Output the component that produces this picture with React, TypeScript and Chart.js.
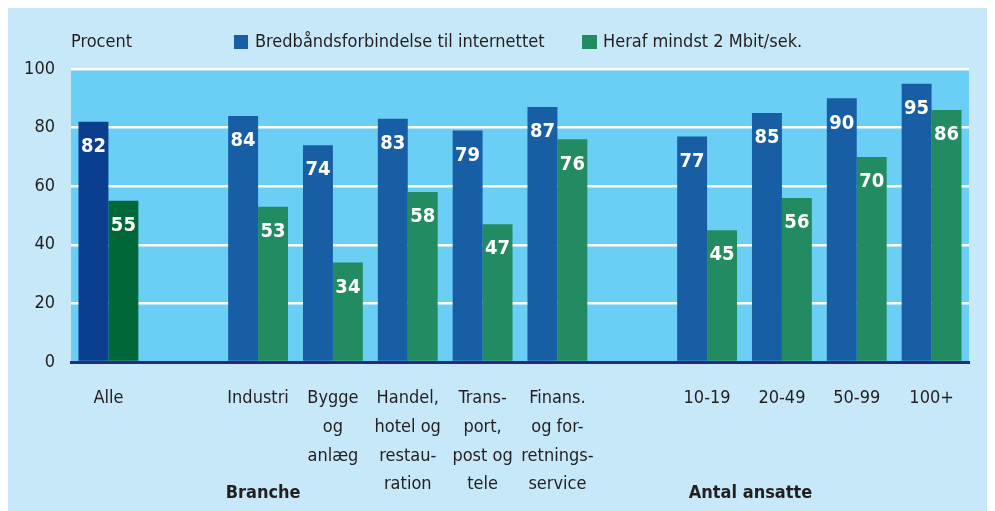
import React, { useEffect, useRef } from "react";
import { Chart, registerables } from "chart.js";

Chart.register(...registerables);

const categories: string[][] = [
  ["Alle"],
  [""],
  ["Industri"],
  ["Bygge", "og", "anlæg"],
  ["Handel,", "hotel og", "restau-", "ration"],
  ["Trans-", "port,", "post og", "tele"],
  ["Finans.", "og for-", "retnings-", "service"],
  [""],
  ["10-19"],
  ["20-49"],
  ["50-99"],
  ["100+"],
];
const broadband: (number | null)[] = [82, null, 84, 74, 83, 79, 87, null, 77, 85, 90, 95];
const atLeast2Mbit: (number | null)[] = [55, null, 53, 34, 58, 47, 76, null, 45, 56, 70, 86];
const yTicks = [0, 20, 40, 60, 80, 100];
const seriesNames = ["Bredbåndsforbindelse til internettet", "Heraf mindst 2 Mbit/sek."];
const groupTitles = ["Branche", "Antal ansatte"];

const FONT = '"Liberation Sans Narrow", "DejaVu Sans Condensed", "Liberation Sans", sans-serif';
const TEXT = "#231f20";
const BLUE = "#175ea5";
const BLUE_DARK = "#0a3f8f";
const GREEN = "#238b61";
const GREEN_DARK = "#006838";

export default function App() {
  const ref = useRef<HTMLCanvasElement | null>(null);
  useEffect(() => {
    if (!ref.current) return;
    const decor = {
      id: "decor",
      beforeDraw(chart: any) {
        const { ctx, chartArea: a } = chart;
        ctx.save();
        ctx.fillStyle = "#6bcef5";
        ctx.fillRect(a.left, a.top, a.right - a.left, a.bottom - a.top);
        ctx.restore();
      },
      afterDatasetsDraw(chart: any) {
        const { ctx } = chart;
        ctx.save();
        ctx.fillStyle = "#ffffff";
        ctx.font = `bold 20px ${FONT}`;
        ctx.textAlign = "center";
        ctx.textBaseline = "middle";
        chart.data.datasets.forEach((ds: any, di: number) => {
          const meta = chart.getDatasetMeta(di);
          meta.data.forEach((el: any, i: number) => {
            const v = ds.data[i];
            if (v == null) return;
            ctx.fillText(String(v), el.x, el.y + 25);
          });
        });
        ctx.restore();
      },
      afterDraw(chart: any) {
        const { ctx, chartArea: a, scales } = chart;
        ctx.save();
        ctx.fillStyle = TEXT;
        ctx.font = `18px ${FONT}`;
        ctx.textBaseline = "middle";
        ctx.textAlign = "left";
        ctx.fillText("Procent", a.left, a.top - 27);
        const ly = a.top - 27;
        const lx1 = a.left + 163;
        ctx.fillStyle = BLUE;
        ctx.fillRect(lx1, ly - 7, 14, 14);
        ctx.fillStyle = TEXT;
        ctx.fillText(seriesNames[0], lx1 + 21, ly);
        const lx2 = a.left + 511;
        ctx.fillStyle = GREEN;
        ctx.fillRect(lx2, ly - 7, 15, 14);
        ctx.fillStyle = TEXT;
        ctx.fillText(seriesNames[1], lx2 + 21, ly);
        const x = scales.x;
        ctx.font = `bold 18px ${FONT}`;
        ctx.textAlign = "center";
        ctx.fillText(groupTitles[0], x.getPixelForValue(2) + 5, a.bottom + 131);
        ctx.fillText(
          groupTitles[1],
          (x.getPixelForValue(8) + x.getPixelForValue(9)) / 2 + 6,
          a.bottom + 131
        );
        ctx.restore();
      },
    };

    const chart = new Chart(ref.current, {
      type: "bar",
      data: {
        labels: categories,
        datasets: [
          {
            label: seriesNames[0],
            data: broadband,
            backgroundColor: broadband.map((_, i) => (i === 0 ? BLUE_DARK : BLUE)),
            categoryPercentage: 0.8,
            barPercentage: 1.0,
          },
          {
            label: seriesNames[1],
            data: atLeast2Mbit,
            backgroundColor: atLeast2Mbit.map((_, i) => (i === 0 ? GREEN_DARK : GREEN)),
            categoryPercentage: 0.8,
            barPercentage: 1.0,
          },
        ],
      },
      options: {
        animation: false,
        responsive: true,
        maintainAspectRatio: false,
        layout: { padding: { top: 61, right: 23, left: 0, bottom: 0 } },
        plugins: {
          legend: { display: false },
          tooltip: { enabled: false },
        },
        scales: {
          x: {
            grid: { display: false, drawTicks: false },
            border: { display: true, color: "#272b7f", width: 3 },
            ticks: {
              color: TEXT,
              font: { family: FONT, size: 18, lineHeight: 1.6 },
              padding: 22,
              maxRotation: 0,
              autoSkip: false,
            },
            afterFit(scale: any) {
              scale.height = 149;
            },
          },
          y: {
            min: 0,
            max: 100,
            afterBuildTicks(scale: any) {
              scale.ticks = yTicks.map((v) => ({ value: v }));
            },
            grid: {
              color: (c: any) => (c.tick && c.tick.value === 0 ? "rgba(0,0,0,0)" : "#ffffff"),
              lineWidth: 2.5,
              drawTicks: false,
            },
            border: { display: false },
            ticks: {
              color: TEXT,
              font: { family: FONT, size: 18 },
              padding: 16,
            },
            afterFit(scale: any) {
              scale.width = 63;
            },
          },
        },
      },
      plugins: [decor],
    });
    return () => chart.destroy();
  }, []);

  return (
    <div style={{ width: 984, height: 503, background: "#c6e8f8" }}>
      <canvas ref={ref} />
    </div>
  );
}
